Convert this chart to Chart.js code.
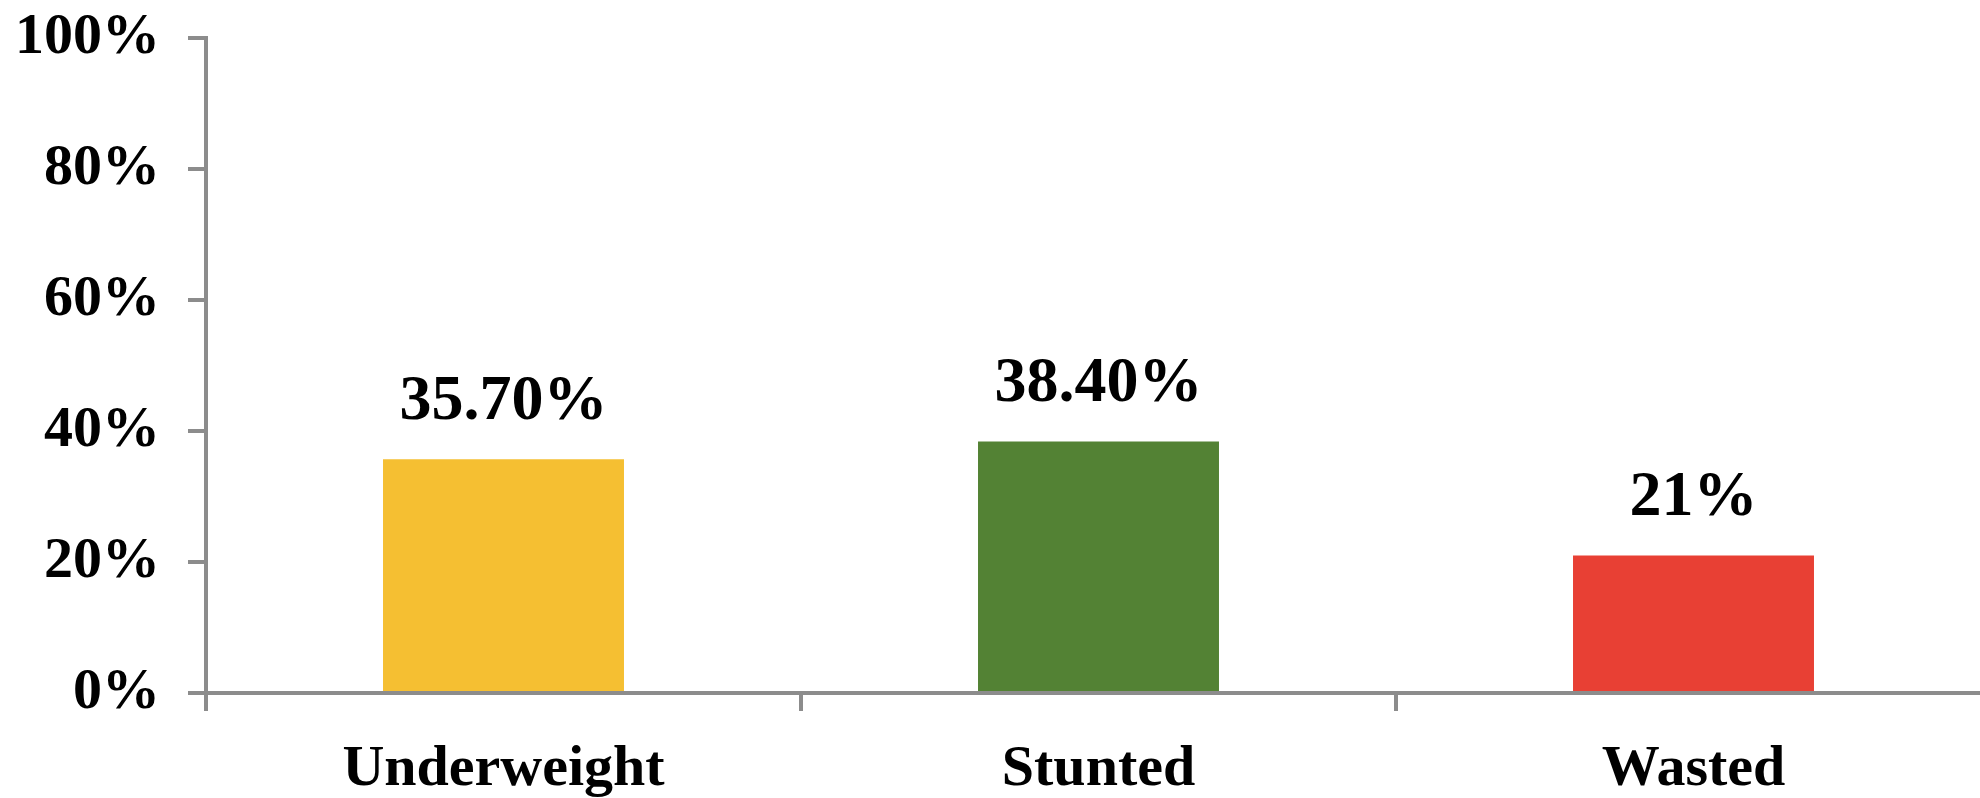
<!DOCTYPE html>
<html>
<head>
<meta charset="utf-8">
<script src="https://cdn.jsdelivr.net/npm/chart.js@4/dist/chart.umd.min.js"></script>
<style>
html,body{margin:0;padding:0;background:#fff;overflow:hidden;}
#wrap{width:1980px;height:798px;position:relative;overflow:hidden;}
canvas{display:block;}
</style>
</head>
<body>
<div id="wrap"><canvas id="c" width="1991" height="798"></canvas></div>
<script>
const categories = ['Underweight', 'Stunted', 'Wasted'];
const values = [35.7, 38.4, 21];
const valueLabels = ['35.70%', '38.40%', '21%'];
const barColors = ['#F5BF32', '#538234', '#E84034'];
const yTicks = [0, 20, 40, 60, 80, 100];

const AXIS = '#8c8c8c';
const FONT = "'Liberation Serif', 'Times New Roman', serif";

const valueLabelPlugin = {
  id: 'valueLabels',
  afterDatasetsDraw(chart) {
    const ctx = chart.ctx;
    const meta = chart.getDatasetMeta(0);
    ctx.save();
    ctx.fillStyle = '#000';
    ctx.font = "bold 64px " + FONT;
    ctx.textAlign = 'center';
    ctx.textBaseline = 'alphabetic';
    meta.data.forEach((bar, i) => {
      ctx.fillText(valueLabels[i], bar.x, bar.y - 40);
    });
    ctx.restore();
  }
};

function zeroPad(scale) {
  scale.paddingTop = 0; scale.paddingBottom = 0;
  scale.paddingLeft = 0; scale.paddingRight = 0;
}

new Chart(document.getElementById('c'), {
  type: 'bar',
  data: {
    labels: categories,
    datasets: [{
      data: values,
      backgroundColor: barColors,
      borderWidth: 0,
      barPercentage: 0.81,
      categoryPercentage: 0.5
    }]
  },
  options: {
    responsive: false,
    animation: false,
    devicePixelRatio: 1,
    layout: { padding: { top: 38, right: 0, left: 0, bottom: 0 } },
    plugins: { legend: { display: false }, tooltip: { enabled: false } },
    scales: {
      x: {
        offset: true,
        border: { display: true, color: AXIS, width: 4 },
        grid: { display: true, offset: true, drawOnChartArea: false, drawTicks: true, tickLength: 18, color: AXIS, lineWidth: 4 },
        ticks: { color: '#000', font: { family: FONT, size: 58, weight: 'bold' }, padding: 24, maxRotation: 0 },
        afterFit(scale) { scale.height = 105; zeroPad(scale); }
      },
      y: {
        min: 0, max: 100,
        afterBuildTicks(scale) { scale.ticks = yTicks.map(v => ({ value: v })); },
        border: { display: true, color: AXIS, width: 4 },
        grid: { display: true, drawOnChartArea: false, drawTicks: true, tickLength: 18, color: AXIS, lineWidth: 4 },
        ticks: { color: '#000', font: { family: FONT, size: 58, weight: 'bold' }, padding: 28, callback: v => v + '%' },
        afterFit(scale) { scale.width = 206; zeroPad(scale); }
      }
    }
  },
  plugins: [valueLabelPlugin]
});
</script>
</body>
</html>
